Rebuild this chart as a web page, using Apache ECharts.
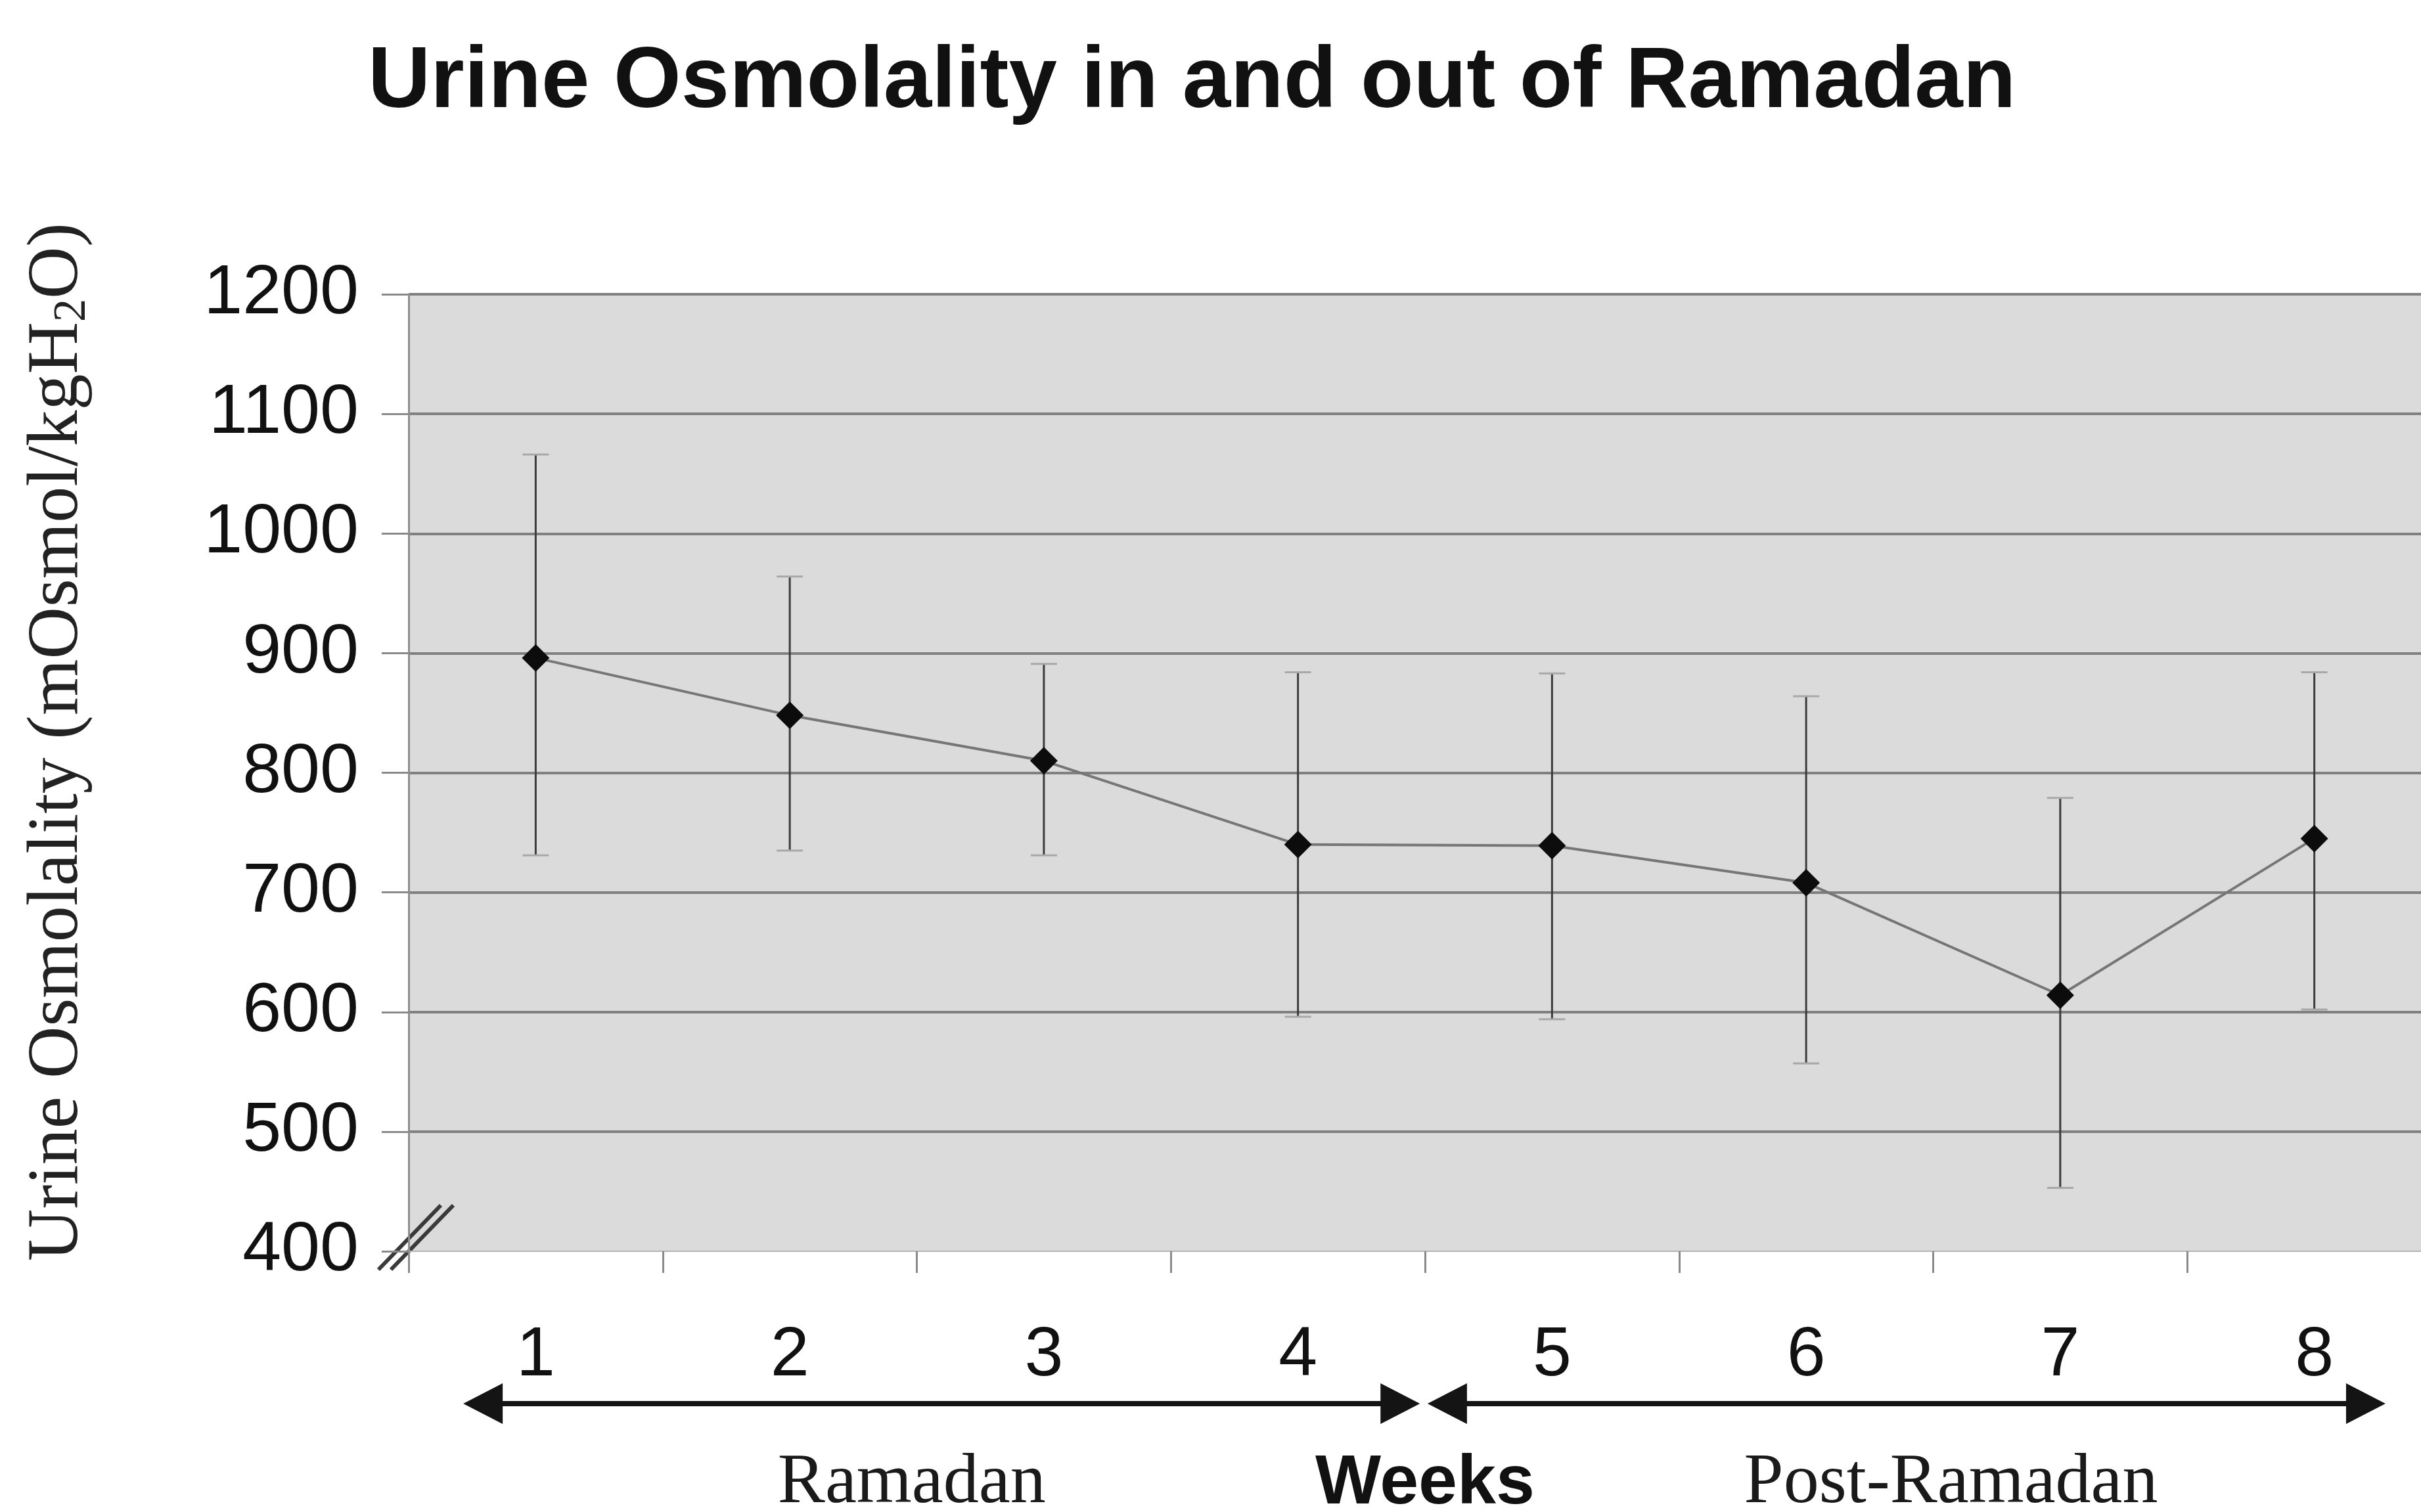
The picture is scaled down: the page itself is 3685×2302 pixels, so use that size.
<!DOCTYPE html>
<html>
<head>
<meta charset="utf-8">
<script src="https://cdn.jsdelivr.net/npm/echarts@6/dist/echarts.min.js"></script>
<style>
  html, body { margin: 0; padding: 0; background: #ffffff; }
  #chart { width: 3685px; height: 2302px; }
</style>
</head>
<body>
<div id="chart"></div>
<script>
// Weekly urine osmolality (mOsmol/kgH2O): mean with the spread shown by the error bars
const weeks = ['1', '2', '3', '4', '5', '6', '7', '8'];
const meanOsmolality = [896, 848, 810, 740, 739, 708, 614, 745];
const upperBound = [1066, 964, 891, 884, 883, 864, 779, 884];
const lowerBound = [731, 735, 731, 596, 594, 557, 453, 602];

// Value axis range
const yMin = 400;
const yMax = 1200;
const yStep = 100;

// Period captions under the week numbers
const periodNames = ['Ramadan', 'Post-Ramadan'];

const chart = echarts.init(document.getElementById('chart'), null, { renderer: 'canvas' });

const sans = '"Liberation Sans", Arial, sans-serif';
const serif = '"Liberation Serif", "Times New Roman", serif';

chart.setOption({
  backgroundColor: '#ffffff',
  animation: false,
  title: {
    text: 'Urine Osmolality in and out of Ramadan',
    left: 555,
    top: 56,
    textStyle: { fontFamily: sans, fontWeight: 'bold', fontSize: 132, color: '#111111' }
  },
  grid: {
    left: 622,
    right: -31,
    top: 448,
    bottom: 397,
    show: true,
    backgroundColor: '#dbdbdb',
    borderWidth: 0,
    containLabel: false,
    outerBoundsMode: 'none'
  },
  xAxis: {
    type: 'category',
    data: weeks,
    boundaryGap: true,
    axisLine: { show: true, lineStyle: { color: '#b4b4b4', width: 2 } },
    axisTick: { show: true, length: 33, lineStyle: { color: '#8a8a8a', width: 3 } },
    axisLabel: { margin: 107, fontFamily: sans, fontSize: 106, color: '#111111' },
    splitLine: { show: false },
    name: 'Weeks',
    nameLocation: 'middle',
    nameGap: 302,
    nameTextStyle: { fontFamily: sans, fontWeight: 'bold', fontSize: 106, color: '#111111' }
  },
  yAxis: {
    type: 'value',
    min: yMin,
    max: yMax,
    interval: yStep,
    axisLine: { show: true, lineStyle: { color: '#8e8e8e', width: 3 } },
    axisTick: { show: true, inside: false, length: 41, lineStyle: { color: '#8a8a8a', width: 3 } },
    axisLabel: {
      margin: 76,
      fontFamily: sans,
      fontSize: 106,
      color: '#111111',
      formatter: (v) => String(v)
    },
    splitLine: { show: true, showMinLine: false, lineStyle: { color: '#808080', width: 4 } },
    name: '{a|Urine Osmolality (mOsmol/kgH}{s|2}{a|O)}',
    nameLocation: 'middle',
    nameRotate: 90,
    nameGap: 476,
    nameTextStyle: {
      fontFamily: serif,
      fontSize: 110,
      color: '#222222',
      padding: [0, 0, 0, 94],
      rich: {
        a: { fontFamily: serif, fontSize: 110, lineHeight: 116, color: '#222222' },
        s: { fontFamily: serif, fontSize: 70, lineHeight: 60, verticalAlign: 'bottom', color: '#222222' }
      }
    }
  },
  series: [
    {
      // vertical error bars from the lower to the upper bound
      type: 'custom',
      name: 'range',
      z: 2,
      data: weeks.map((w, i) => [i, lowerBound[i], upperBound[i]]),
      encode: { x: 0, y: [1, 2] },
      renderItem(params, api) {
        const i = api.value(0);
        const lo = api.coord([i, api.value(1)]);
        const hi = api.coord([i, api.value(2)]);
        const cap = 20;
        return {
          type: 'group',
          children: [
            { type: 'line', shape: { x1: hi[0], y1: hi[1], x2: lo[0], y2: lo[1] },
              style: { stroke: '#3c3c3c', lineWidth: 3 } },
            { type: 'line', shape: { x1: hi[0] - cap, y1: hi[1], x2: hi[0] + cap, y2: hi[1] },
              style: { stroke: '#a8a8a8', lineWidth: 3 } },
            { type: 'line', shape: { x1: lo[0] - cap, y1: lo[1], x2: lo[0] + cap, y2: lo[1] },
              style: { stroke: '#a8a8a8', lineWidth: 3 } }
          ]
        };
      }
    },
    {
      type: 'line',
      name: 'mean',
      z: 3,
      data: meanOsmolality,
      symbol: 'diamond',
      symbolSize: [42, 42],
      itemStyle: { color: '#0c0c0c' },
      lineStyle: { color: '#767676', width: 4 }
    }
  ]
});

// Annotations placed from the axis scales: period arrows, captions and the axis break mark
function drawAnnotations() {
  const x0 = chart.convertToPixel({ xAxisIndex: 0 }, 0);
  const band = chart.convertToPixel({ xAxisIndex: 0 }, 1) - x0;
  const xAt = (i) => x0 + i * band;
  const axisX = xAt(-0.5);
  const axisY = chart.convertToPixel({ yAxisIndex: 0 }, yMin);

  const arrowY = axisY + 232;
  const headLen = 60;
  const headHalf = 31;
  const ink = '#141414';

  function doubleArrow(xa, xb) {
    return {
      type: 'group',
      children: [
        { type: 'line', shape: { x1: xa + headLen - 4, y1: arrowY, x2: xb - headLen + 4, y2: arrowY },
          style: { stroke: ink, lineWidth: 8 } },
        { type: 'polygon', shape: { points: [[xa, arrowY], [xa + headLen, arrowY - headHalf], [xa + headLen, arrowY + headHalf]] },
          style: { fill: ink } },
        { type: 'polygon', shape: { points: [[xb, arrowY], [xb - headLen, arrowY - headHalf], [xb - headLen, arrowY + headHalf]] },
          style: { fill: ink } }
      ]
    };
  }

  const captionY = axisY + 354;
  const slash = (dx) => ({
    type: 'line',
    shape: { x1: axisX - 46 + dx, y1: axisY + 28, x2: axisX + 49 + dx, y2: axisY - 70 },
    style: { stroke: '#3a3a3a', lineWidth: 6 }
  });

  chart.setOption({
    graphic: [
      doubleArrow(xAt(-0.285), xAt(3.48)),
      doubleArrow(xAt(3.51), xAt(7.28)),
      { type: 'text', x: xAt(1.48), y: captionY,
        style: { text: periodNames[0], font: '108px ' + serif, fill: '#1a1a1a', align: 'center', verticalAlign: 'middle' } },
      { type: 'text', x: xAt(5.57), y: captionY,
        style: { text: periodNames[1], font: '108px ' + serif, fill: '#1a1a1a', align: 'center', verticalAlign: 'middle' } },
      slash(0),
      slash(19)
    ]
  });
}

drawAnnotations();
</script>
</body>
</html>
